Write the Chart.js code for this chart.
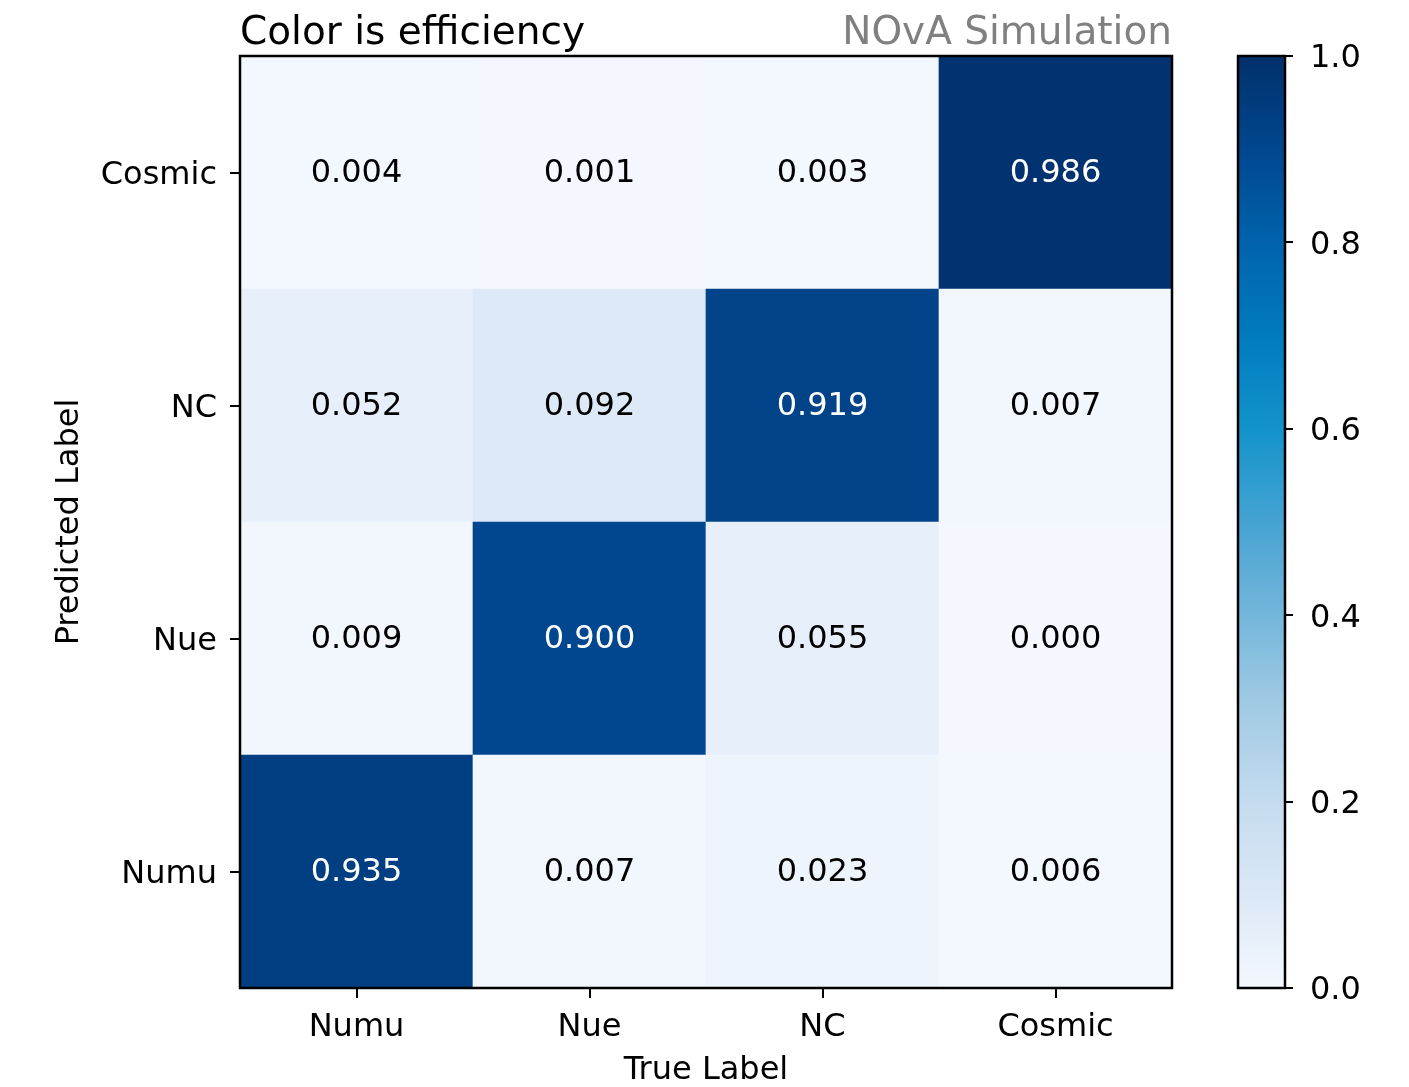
<!DOCTYPE html>
<html>
<head>
<meta charset="utf-8">
<script src="https://cdn.jsdelivr.net/npm/chart.js@4.4.1/dist/chart.umd.min.js"></script>
<style>
  html, body { margin: 0; padding: 0; background: #fff; }
  #wrap { position: relative; width: 1409px; height: 1087px; }
  #main { position: absolute; left: 0; top: 0; }
  #cbar { position: absolute; left: 1200px; top: 0; }
</style>
</head>
<body>
<div id="wrap">
  <canvas id="main" width="1409" height="1087"></canvas>
  <canvas id="cbar" width="209" height="1087"></canvas>
</div>
<script>
// Class names (true label along x, predicted label along y, bottom to top)
const trueLabels = ['Numu', 'Nue', 'NC', 'Cosmic'];
const predLabels = ['Numu', 'Nue', 'NC', 'Cosmic'];

// Efficiency per predicted class, one value per true class
const predNumu   = [0.935, 0.007, 0.023, 0.006];
const predNue    = [0.009, 0.900, 0.055, 0.000];
const predNC     = [0.052, 0.092, 0.919, 0.007];
const predCosmic = [0.004, 0.001, 0.003, 0.986];

const rows = [predNumu, predNue, predNC, predCosmic];

// Colorbar ticks
const cbarTicks = [0.0, 0.2, 0.4, 0.6, 0.8, 1.0];

// Blues-style colour map
const cmapStops = [
  [0.00, [244, 248, 254]],
  [0.10, [219, 232, 246]],
  [0.20, [196, 219, 239]],
  [0.30, [162, 203, 228]],
  [0.40, [116, 182, 219]],
  [0.50, [ 69, 163, 211]],
  [0.60, [ 19, 147, 203]],
  [0.70, [  0, 123, 189]],
  [0.80, [  0,  99, 171]],
  [0.90, [  0,  71, 143]],
  [1.00, [  2,  48, 107]]
];

function cmap(v) {
  v = Math.max(0, Math.min(1, v));
  for (let i = 1; i < cmapStops.length; i++) {
    const [p1, c1] = cmapStops[i];
    const [p0, c0] = cmapStops[i - 1];
    if (v <= p1) {
      const t = (v - p0) / (p1 - p0);
      const c = c0.map((a, k) => Math.round(a + (c1[k] - a) * t));
      return `rgb(${c[0]},${c[1]},${c[2]})`;
    }
  }
  const c = cmapStops[cmapStops.length - 1][1];
  return `rgb(${c[0]},${c[1]},${c[2]})`;
}

const FONT = '"DejaVu Sans", "Liberation Sans", sans-serif';

// One floating-bar dataset per predicted row: each bar spans [row, row + 1]
const datasets = rows.map((vals, r) => ({
  label: predLabels[r],
  data: vals.map(() => [r, r + 1]),
  values: vals,
  backgroundColor: vals.map(v => cmap(v)),
  borderWidth: 0,
  barPercentage: 1,
  categoryPercentage: 1,
  grouped: false
}));

// Cell annotations, frame and header texts
const matrixDecor = {
  id: 'matrixDecor',
  afterDatasetsDraw(chart) {
    const { ctx, chartArea, scales } = chart;
    ctx.save();
    ctx.font = `32px ${FONT}`;
    ctx.textAlign = 'center';
    ctx.textBaseline = 'middle';
    chart.data.datasets.forEach((ds, r) => {
      ds.values.forEach((v, c) => {
        const x = scales.x.getPixelForValue(c);
        const y = scales.y.getPixelForValue(r + 0.5) + 1.5;
        ctx.fillStyle = v > 0.5 ? '#ffffff' : '#000000';
        ctx.fillText(v.toFixed(3), x, y);
      });
    });
    ctx.lineWidth = 2.5;
    ctx.strokeStyle = '#000';
    ctx.strokeRect(chartArea.left, chartArea.top,
                   chartArea.right - chartArea.left, chartArea.bottom - chartArea.top);
    ctx.font = `39px ${FONT}`;
    ctx.textBaseline = 'alphabetic';
    ctx.textAlign = 'left';
    ctx.fillStyle = '#000';
    ctx.fillText('Color is efficiency', chartArea.left, 44);
    ctx.textAlign = 'right';
    ctx.fillStyle = '#808080';
    ctx.fillText('NOvA Simulation', chartArea.right, 44);
    ctx.restore();
  }
};

new Chart(document.getElementById('main'), {
  type: 'bar',
  data: { labels: trueLabels, datasets },
  options: {
    responsive: false,
    devicePixelRatio: 1,
    animation: false,
    layout: { padding: { left: 0, right: 237, top: 56, bottom: 0 } },
    plugins: { legend: { display: false }, tooltip: { enabled: false } },
    scales: {
      x: {
        type: 'category',
        offset: true,
        afterFit(scale) { scale.height = 99; },
        grid: { offset: false, drawOnChartArea: false, drawTicks: true, tickLength: 10, color: '#000', lineWidth: 2 },
        border: { display: false },
        ticks: { color: '#000', font: { family: FONT, size: 32 }, padding: 10, maxRotation: 0 },
        title: { display: true, text: 'True Label', color: '#000', font: { family: FONT, size: 32 }, padding: { top: 0, bottom: -3 } }
      },
      y: {
        type: 'linear',
        min: 0,
        max: predLabels.length,
        afterFit(scale) { scale.width = 240; },
        afterBuildTicks(scale) { scale.ticks = predLabels.map((_, i) => ({ value: i + 0.5 })); },
        grid: { drawOnChartArea: false, drawTicks: true, tickLength: 10, color: '#000', lineWidth: 2 },
        border: { display: false },
        ticks: {
          color: '#000',
          font: { family: FONT, size: 32 },
          padding: 13,
          labelOffset: 3,
          callback: (v) => predLabels[Math.floor(v)]
        },
        title: { display: true, text: 'Predicted Label', color: '#000', font: { family: FONT, size: 32 }, padding: { top: 50, bottom: 0 } }
      }
    }
  },
  plugins: [matrixDecor]
});

// Colorbar: gradient filled along its own value scale
const cbarDecor = {
  id: 'cbarDecor',
  beforeDatasetsDraw(chart) {
    const { ctx, chartArea, scales } = chart;
    const y0 = scales.y.getPixelForValue(0);
    const y1 = scales.y.getPixelForValue(1);
    const g = ctx.createLinearGradient(0, y0, 0, y1);
    cmapStops.forEach(([p]) => g.addColorStop(p, cmap(p)));
    ctx.save();
    ctx.fillStyle = g;
    ctx.fillRect(chartArea.left, y1, chartArea.right - chartArea.left, y0 - y1);
    ctx.lineWidth = 2.5;
    ctx.strokeStyle = '#000';
    ctx.strokeRect(chartArea.left, y1, chartArea.right - chartArea.left, y0 - y1);
    ctx.restore();
  }
};

new Chart(document.getElementById('cbar'), {
  type: 'bar',
  data: { labels: [''], datasets: [{ data: [], borderWidth: 0 }] },
  options: {
    responsive: false,
    devicePixelRatio: 1,
    animation: false,
    layout: { padding: { left: 38, right: 0, top: 56, bottom: 99 } },
    plugins: { legend: { display: false }, tooltip: { enabled: false } },
    scales: {
      x: { display: false },
      y: {
        type: 'linear',
        position: 'right',
        min: 0,
        max: 1,
        afterFit(scale) { scale.width = 124; },
        afterBuildTicks(scale) { scale.ticks = cbarTicks.map(v => ({ value: v })); },
        grid: { drawOnChartArea: false, drawTicks: true, tickLength: 8, color: '#000', lineWidth: 2 },
        border: { display: false },
        ticks: { color: '#000', font: { family: FONT, size: 32 }, padding: 17, labelOffset: 3, callback: (v) => Number(v).toFixed(1) }
      }
    }
  },
  plugins: [cbarDecor]
});
</script>
</body>
</html>
